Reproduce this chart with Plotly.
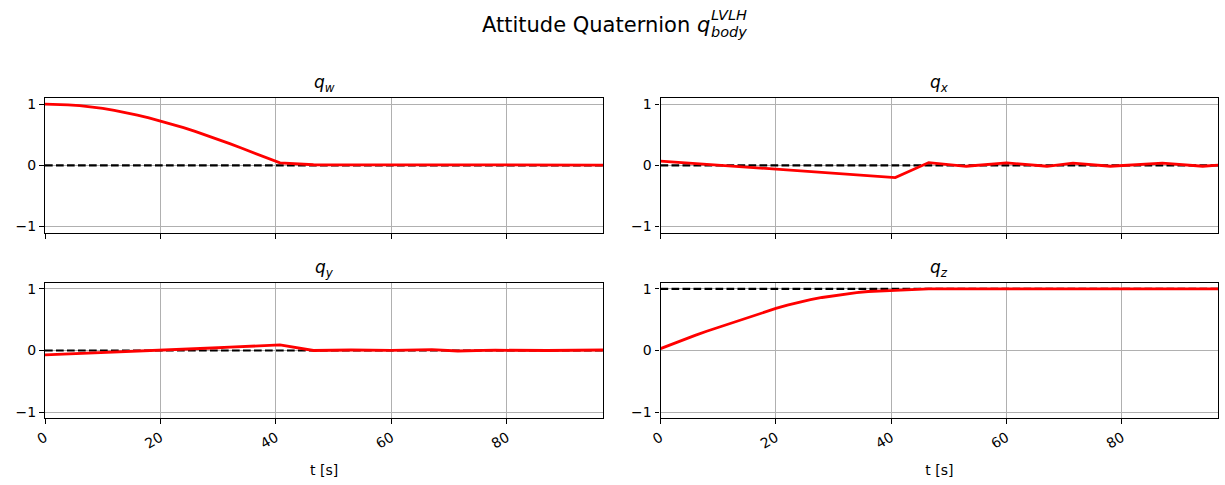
import plotly.graph_objects as go

# ---------------- data ----------------
t = [0, 2, 4, 6, 8, 10, 12, 14, 16, 18, 20, 22, 24, 26, 28, 30, 32, 34, 36, 38, 40,
     40.7, 46.5, 53, 60, 67, 71.5, 78, 87, 94, 96.7]

q_w = [1.000, 0.997, 0.989, 0.974, 0.954, 0.929, 0.899, 0.863, 0.822, 0.777, 0.727,
       0.674, 0.616, 0.555, 0.491, 0.424, 0.354, 0.283, 0.210, 0.135, 0.062,
       0.040, 0.010, 0.008, 0.008, 0.006, 0.006, 0.005, 0.005, 0.005, 0.005]

q_x = [0.070, 0.057, 0.043, 0.030, 0.017, 0.003, -0.010, -0.023, -0.037, -0.050, -0.063,
       -0.077, -0.090, -0.103, -0.117, -0.130, -0.143, -0.157, -0.170, -0.183, -0.197,
       -0.200, 0.045, -0.015, 0.040, -0.015, 0.035, -0.015, 0.035, -0.015, 0.005]

q_y = [-0.070, -0.063, -0.056, -0.049, -0.042, -0.035, -0.028, -0.021, -0.014, -0.007, 0.000,
       0.009, 0.018, 0.027, 0.036, 0.045, 0.054, 0.063, 0.072, 0.081, 0.088,
       0.090, 0.000, 0.008, 0.003, 0.015, -0.008, 0.005, 0.000, 0.005, 0.008]

q_z = [0.030, 0.105, 0.175, 0.245, 0.312, 0.375, 0.440, 0.505, 0.565, 0.625, 0.682,
       0.735, 0.782, 0.825, 0.860, 0.890, 0.918, 0.940, 0.957, 0.968, 0.974,
       0.976, 0.999, 1.000, 1.000, 1.000, 1.000, 1.000, 1.000, 1.000, 1.000]

targets = [0, 0, 0, 1]
series = [q_w, q_x, q_y, q_z]
components = ["w", "x", "y", "z"]

x_ticks = [0, 20, 40, 60, 80]
y_ticks = [-1, 0, 1]
y_tick_text = ["\u22121", "0", "1"]
x_label = "t [s]"
main_title = "Attitude Quaternion"

# ---------------- layout geometry (pixels) ----------------
W, H = 1225, 485
cols = [(45, 603.3), (660.5, 1218.3)]
rows = [(98, 232.7), (282.7, 418.3)]
FONT = "DejaVu Sans"

fig = go.Figure()
layout = dict(
    width=W, height=H,
    margin=dict(l=0, r=0, t=0, b=0, autoexpand=False),
    paper_bgcolor="white", plot_bgcolor="white",
    showlegend=False,
    font=dict(family=FONT, size=14, color="black"),
)

annotations = []
for i in range(4):
    r, c = divmod(i, 2)
    xa = "x" if i == 0 else f"x{i+1}"
    ya = "y" if i == 0 else f"y{i+1}"
    xkey = "xaxis" if i == 0 else f"xaxis{i+1}"
    ykey = "yaxis" if i == 0 else f"yaxis{i+1}"
    # dashed reference
    fig.add_trace(go.Scatter(
        x=[t[0], t[-1]], y=[targets[i], targets[i]], mode="lines",
        line=dict(color="black", width=2.1, dash="7.7px,3.3px"),
        xaxis=xa, yaxis=ya, hoverinfo="skip"))
    # red state line
    fig.add_trace(go.Scatter(
        x=t, y=series[i], mode="lines",
        line=dict(color="red", width=2.8),
        xaxis=xa, yaxis=ya))
    x0, x1 = cols[c]
    y0, y1 = rows[r]
    common = dict(showline=True, mirror=True, linecolor="black", linewidth=1.1,
                  ticks="outside", ticklen=4.9, tickwidth=1.1, tickcolor="black",
                  showgrid=True, gridcolor="#b0b0b0", gridwidth=1.1, zeroline=False,
                  automargin=False,
                  tickfont=dict(family=FONT, size=14, color="black"))
    layout[xkey] = dict(common, domain=[x0 / W, x1 / W], range=[t[0], t[-1]],
                        anchor=ya, tickvals=x_ticks,
                        showticklabels=(r == 1), tickangle=-30)
    if r == 1:
        layout[xkey]["title"] = dict(text=x_label, font=dict(family=FONT, size=14),
                                     standoff=14)
    layout[ykey] = dict(common, domain=[1 - y1 / H, 1 - y0 / H], range=[-1.1, 1.1],
                        anchor=xa, tickvals=y_ticks, ticktext=y_tick_text)
    annotations.append(dict(
        text=f"<i>q</i><sub><i>{components[i]}</i></sub>",
        xref="paper", yref="paper", x=(x0 + x1) / 2 / W, y=1 - (y0 - 1) / H,
        xanchor="center", yanchor="bottom", showarrow=False,
        font=dict(family=FONT, size=17, color="black")))

# suptitle with stacked super/subscript
annotations.append(dict(
    text=f"{main_title} <i>q</i>", xref="paper", yref="paper",
    x=480 / W, y=1 - 25 / H, xanchor="left", yanchor="middle", showarrow=False,
    font=dict(family=FONT, size=21, color="black")))
annotations.append(dict(
    text="<i>LVLH</i>", xref="paper", yref="paper",
    x=709 / W, y=1 - 15 / H, xanchor="left", yanchor="middle", showarrow=False,
    font=dict(family=FONT, size=14.5, color="black")))
annotations.append(dict(
    text="<i>body</i>", xref="paper", yref="paper",
    x=709 / W, y=1 - 32 / H, xanchor="left", yanchor="middle", showarrow=False,
    font=dict(family=FONT, size=14.5, color="black")))

layout["annotations"] = annotations
fig.update_layout(**layout)
fig.write_html("out.html")
